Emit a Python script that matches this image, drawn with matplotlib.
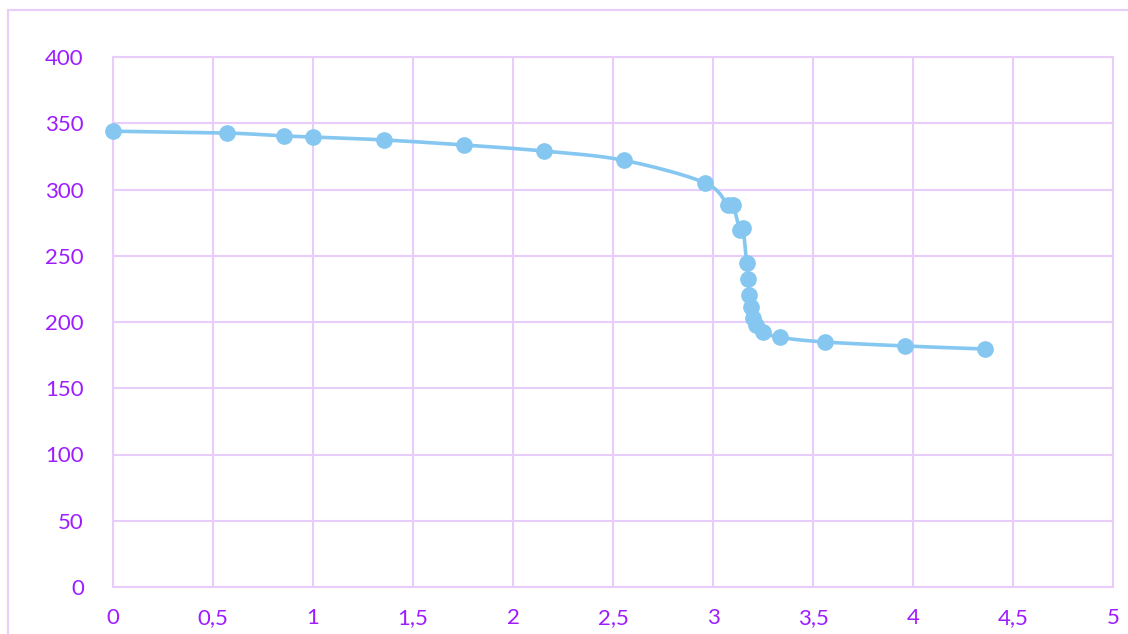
import numpy as np
import matplotlib
matplotlib.use("Agg")
import matplotlib.pyplot as plt
from matplotlib.ticker import FuncFormatter, MultipleLocator
from matplotlib.patches import Rectangle

x_vals = [0.0, 0.57, 0.855, 1.0, 1.355, 1.755, 2.155, 2.555, 2.96, 3.075, 3.10,
          3.135, 3.15, 3.168, 3.177, 3.182, 3.19, 3.202, 3.215, 3.248, 3.335,
          3.56, 3.96, 4.36]
y_vals = [344, 342.6, 340.4, 339.6, 337.4, 333.6, 329, 322, 305, 288, 288,
          269.4, 271, 244.3, 232.2, 220.1, 211, 202.8, 197.7, 192.7, 188.4,
          184.9, 181.9, 179.6]

BLUE = "#85C7F0"
GRID = "#E8CCFA"
PURPLE = "#9E1CFF"


def smooth(xs, ys, n=20):
    # catmull-rom between markers, roughly like the spreadsheet smoothed line
    p = np.column_stack([xs, ys]).astype(float)
    p = np.vstack([p[0], p, p[-1]])
    out = []
    t = np.linspace(0, 1, n)[:, None]
    for i in range(1, len(p) - 2):
        p0, p1, p2, p3 = p[i - 1], p[i], p[i + 1], p[i + 2]
        seg = 0.5 * ((2 * p1) + (-p0 + p2) * t + (2 * p0 - 5 * p1 + 4 * p2 - p3) * t ** 2
                     + (-p0 + 3 * p1 - 3 * p2 + p3) * t ** 3)
        out.append(seg)
    out = np.vstack(out)
    return out[:, 0], out[:, 1]


plt.rcParams["font.family"] = ["Lato", "DejaVu Sans"]

fig = plt.figure(figsize=(11.28, 6.34), dpi=100)
ax = fig.add_axes([113 / 1128, 47 / 634, 1000 / 1128, 530 / 634])

# outer chart border
fig.patches.append(Rectangle((8 / 1128, -0.1), 1.2, 1.1 - 10 / 634, transform=fig.transFigure,
                             fill=False, edgecolor=GRID, linewidth=1.5))

sx, sy = smooth(x_vals, y_vals)
ax.plot(sx, sy, color=BLUE, linewidth=2.6, zorder=3, solid_capstyle="round", clip_on=False)
ax.plot(x_vals, y_vals, "o", color=BLUE, markersize=11, zorder=4, clip_on=False)

ax.set_xlim(0, 5)
ax.set_ylim(0, 400)
ax.xaxis.set_major_locator(MultipleLocator(0.5))
ax.yaxis.set_major_locator(MultipleLocator(50))
ax.xaxis.set_major_formatter(FuncFormatter(lambda v, _: f"{v:g}".replace(".", ",")))
ax.grid(True, color=GRID, linewidth=1.5)
ax.set_axisbelow(True)
for s in ax.spines.values():
    s.set_color(GRID)
    s.set_linewidth(1.5)
ax.tick_params(length=0, labelsize=16, labelcolor=PURPLE)
ax.tick_params(axis="y", pad=21)
ax.tick_params(axis="x", pad=15)

fig.savefig("out.png", dpi=100)
